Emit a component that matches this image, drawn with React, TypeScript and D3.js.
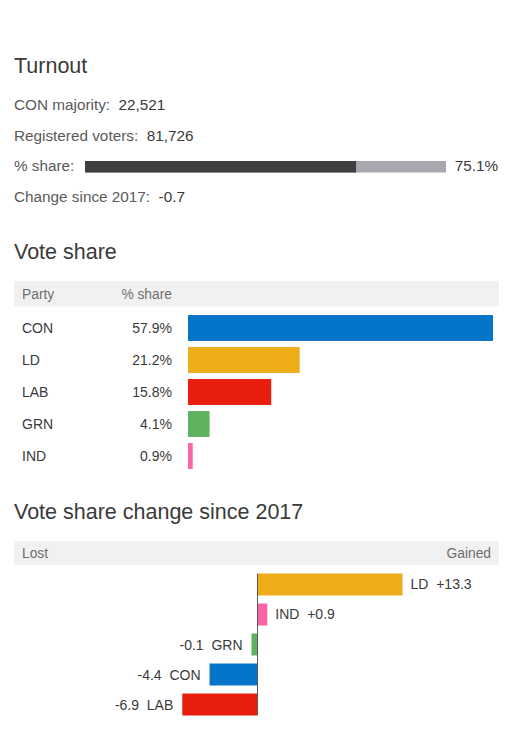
import React from "react";
import * as d3 from "d3";

const turnoutLabels = ["CON majority:", "Registered voters:", "% share:", "Change since 2017:"];
const turnoutValues = ["22,521", "81,726", "75.1%", "-0.7"];
const turnoutShare = 75.1;

const shareParties = ["CON", "LD", "LAB", "GRN", "IND"];
const shareValues = [57.9, 21.2, 15.8, 4.1, 0.9];

const changeParties = ["LD", "IND", "GRN", "CON", "LAB"];
const changeValues = [13.3, 0.9, -0.1, -4.4, -6.9];

const partyColors: Record<string, string> = {
  CON: "#0575c9",
  LD: "#efac1a",
  LAB: "#e91d0e",
  GRN: "#5fb25f",
  IND: "#fd64a6",
};

const W = 515;
const H = 737;
const FONT = "'Liberation Sans', Arial, Helvetica, sans-serif";
const TXT = "#3a3a3a";
const SUB = "#5a5a5a";
const HEAD = "#6e6e6e";
const TITLE = 21.5;
const SP = "\u00a0\u00a0";

export default function App() {
  const tx = d3.scaleLinear().domain([0, 100]).range([85, 446]);
  const sx = d3.scaleLinear().domain([0, d3.max(shareValues)!]).range([188, 493]);
  const sy = d3.scaleBand().domain(shareParties).range([312, 472]).paddingInner(0.19).paddingOuter(0.095);
  const cx = d3.scaleLinear().domain([0, 13.3]).range([257.5, 402.5]);
  const cy = d3.scaleBand().domain(changeParties).range([569.5, 719.5]).paddingInner(0.267).paddingOuter(0.133);

  const fmt1 = d3.format(".1f");
  const fmtSigned = (v: number) => (v > 0 ? "+" : v < 0 ? "-" : "") + fmt1(Math.abs(v));
  const MINW = 6;

  return (
    <svg width={W} height={H} style={{ position: "absolute", left: 0, top: 0, fontFamily: FONT }}>
      <rect width={W} height={H} fill="#fff" />
      {/* Turnout */}
      <text x={14} y={73} fontSize={TITLE} fill={TXT}>Turnout</text>
      {turnoutLabels.map((l, i) => {
        const y = 110 + i * 30.5;
        if (i === 2) {
          return (
            <g key={l}>
              <text x={14} y={y} fontSize={15.3} fill={SUB}>{l}</text>
              <rect x={tx(0)} y={y - 10} width={tx(100) - tx(0)} height={11.5} fill="#a9a8b0" />
              <rect x={tx(0)} y={y - 10} width={tx(turnoutShare) - tx(0)} height={11.5} fill="#3f3f42" />
              <text x={498} y={y} fontSize={15.3} fill={TXT} textAnchor="end">{turnoutValues[i]}</text>
            </g>
          );
        }
        return (
          <text key={l} x={14} y={y} fontSize={15.3} fill={SUB}>
            {l + SP}
            <tspan fill={TXT}>{turnoutValues[i]}</tspan>
          </text>
        );
      })}

      {/* Vote share */}
      <text x={14} y={259} fontSize={TITLE} fill={TXT}>Vote share</text>
      <rect x={14} y={281} width={485} height={25.5} fill="#f1f1f1" />
      <text x={22} y={299} fontSize={13.8} fill={HEAD}>Party</text>
      <text x={172} y={299} fontSize={13.8} fill={HEAD} textAnchor="end">% share</text>
      {shareParties.map((p, i) => {
        const y = sy(p)!;
        const h = sy.bandwidth();
        return (
          <g key={p}>
            <text x={22} y={y + h / 2 + 5} fontSize={14} fill={TXT}>{p}</text>
            <text x={172} y={y + h / 2 + 5} fontSize={14} fill={TXT} textAnchor="end">
              {fmt1(shareValues[i]) + "%"}
            </text>
            <rect x={sx(0)} y={y} width={sx(shareValues[i]) - sx(0)} height={h} fill={partyColors[p]} />
          </g>
        );
      })}

      {/* Change */}
      <text x={14} y={519} fontSize={TITLE} fill={TXT}>Vote share change since 2017</text>
      <rect x={14} y={541} width={485} height={24} fill="#f1f1f1" />
      <text x={22} y={558} fontSize={13.8} fill={HEAD}>Lost</text>
      <text x={491} y={558} fontSize={13.8} fill={HEAD} textAnchor="end">Gained</text>
      {changeParties.map((p, i) => {
        const v = changeValues[i];
        const y = cy(p)!;
        const h = cy.bandwidth();
        const w = Math.max(Math.abs(cx(v) - cx(0)), MINW);
        const x0 = v >= 0 ? cx(0) : cx(0) - w;
        const ty = y + h / 2 + 5;
        return (
          <g key={p}>
            <rect x={x0} y={y} width={w} height={h} fill={partyColors[p]} />
            {v >= 0 ? (
              <text x={x0 + w + 8} y={ty} fontSize={14} fill={TXT}>
                {p + SP + fmtSigned(v)}
              </text>
            ) : (
              <text x={x0 - 9} y={ty} fontSize={14} fill={TXT} textAnchor="end">
                {fmtSigned(v) + SP + p}
              </text>
            )}
          </g>
        );
      })}
      <line x1={cx(0)} x2={cx(0)} y1={cy(changeParties[0])!} y2={715} stroke="#5a5a5a" strokeWidth={1} />
    </svg>
  );
}
